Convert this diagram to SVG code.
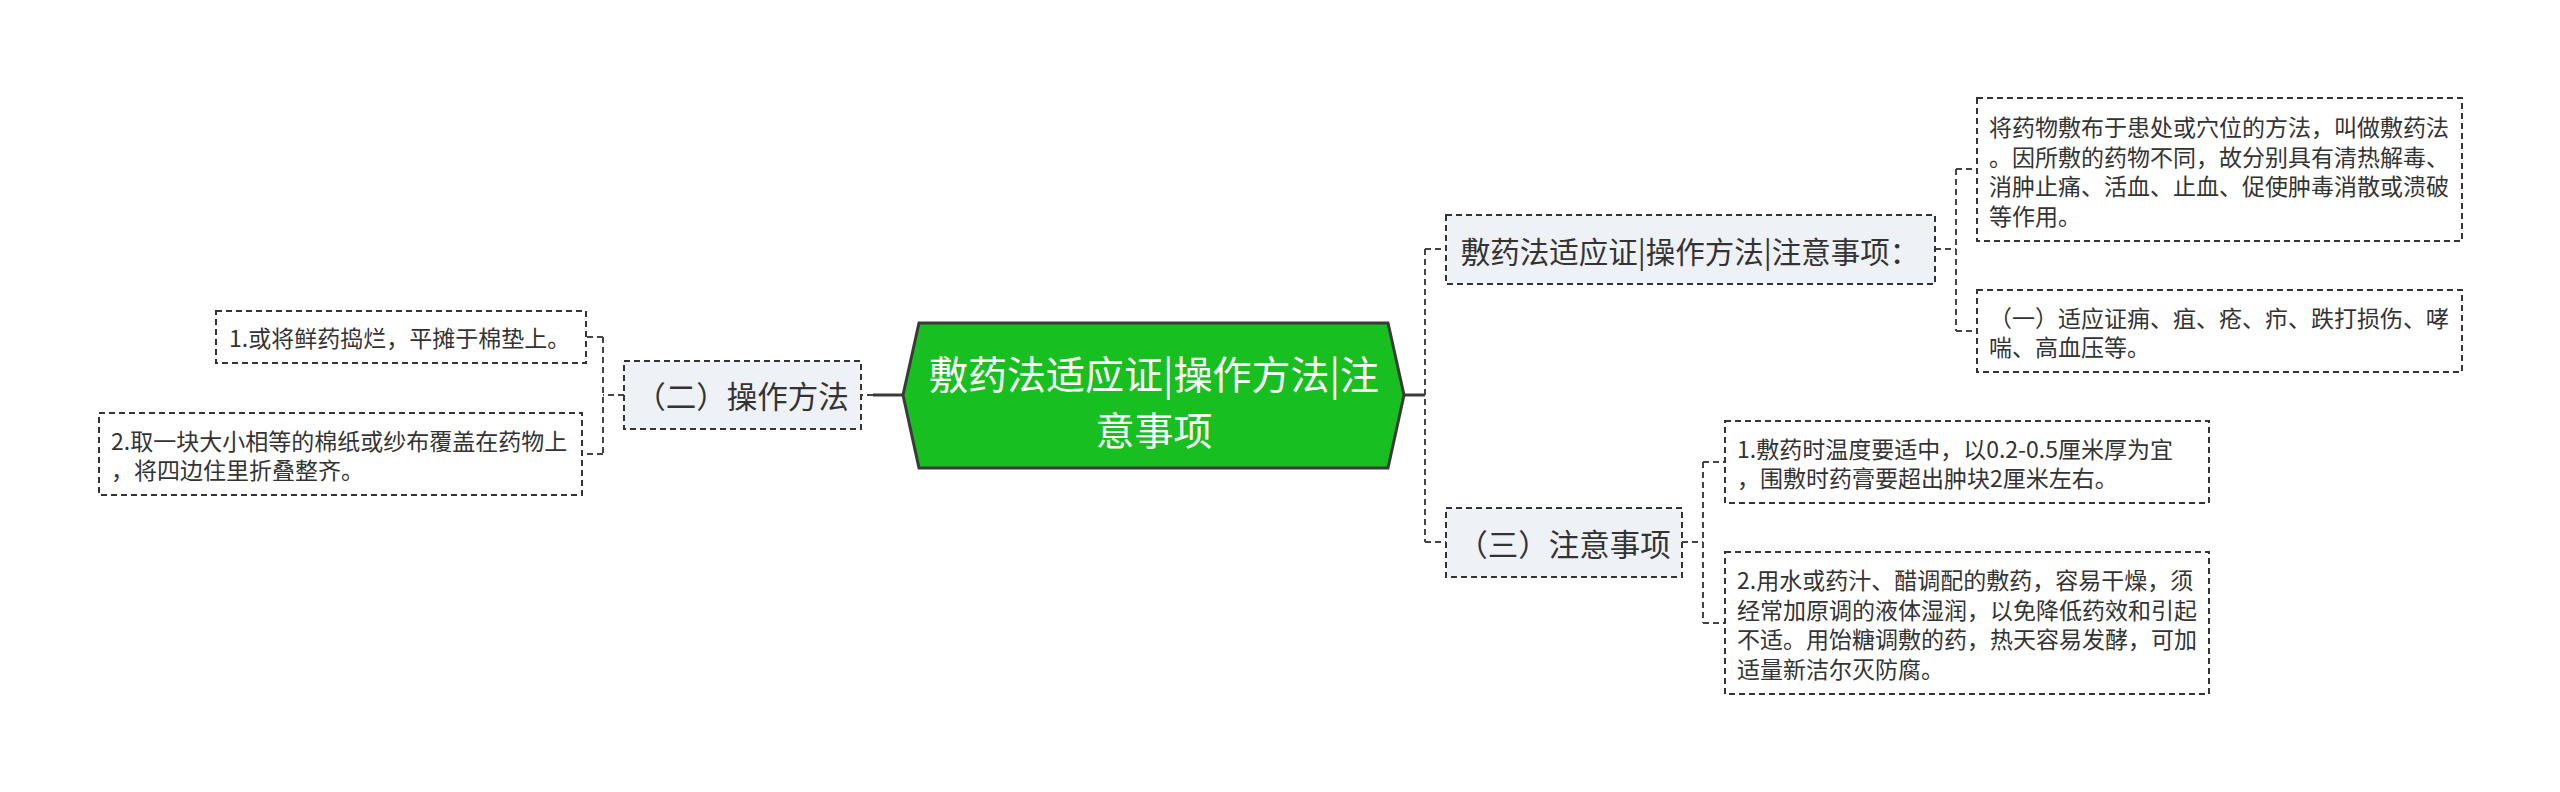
<svg xmlns="http://www.w3.org/2000/svg" width="2560" height="792" viewBox="0 0 2560 792">
<style>
text{font-family:"Microsoft YaHei","Noto Sans CJK SC","Noto Sans",sans-serif;}
.leaf rect{fill:#ffffff;stroke:#333333;stroke-width:2;stroke-dasharray:6 4;}
.sub rect{fill:#eef1f5;stroke:#333333;stroke-width:2;stroke-dasharray:6 4;}
.leaf text{font-size:23px;fill:#333333;dominant-baseline:central;}
.sub text{font-size:30.5px;fill:#333333;dominant-baseline:central;text-anchor:middle;}
.root polygon{fill:#17bf20;stroke:#3a3a3a;stroke-width:3;}
.root text{font-size:39px;fill:#ffffff;dominant-baseline:central;text-anchor:middle;}
.dash{fill:none;stroke:#444444;stroke-width:2;stroke-dasharray:6 4;}
.solid{fill:none;stroke:#3a3a3a;stroke-width:3;}
</style>
<rect width="2560" height="792" fill="#ffffff"/>
<g id="connectors">
<path class="solid" d="M903,395 H873"/>
<path class="dash" d="M873,395 H861"/>
<path class="dash" d="M624,395 H603 M603,337 V454 M603,337 H586 M603,454 H582"/>
<path class="solid" d="M1404,395 H1425"/>
<path class="dash" d="M1425,249 V542 M1425,249 H1446 M1425,542 H1446"/>
<path class="dash" d="M1935,249 H1956 M1956,169 V331 M1956,169 H1977 M1956,331 H1977"/>
<path class="dash" d="M1682,542 H1703 M1703,462 V623 M1703,462 H1725 M1703,623 H1725"/>
</g>
<g id="root" class="root">
<polygon points="903,395 919,323 1388,323 1404,395 1388,468 919,468"/>
<text x="1154" y="372">敷药法适应证|操作方法|注</text>
<text x="1154" y="428">意事项</text>
</g>
<g id="node-caozuo" class="sub">
<rect x="624" y="361" width="237" height="68"/>
<text x="742" y="395">（二）操作方法</text>
</g>
<g id="leaf-caozuo-1" class="leaf">
<rect x="216" y="311" width="370" height="52"/>
<text x="229" y="337">1.或将鲜药捣烂，平摊于棉垫上。</text>
</g>
<g id="leaf-caozuo-2" class="leaf">
<rect x="99" y="413" width="483" height="82"/>
<text x="111" y="440">2.取一块大小相等的棉纸或纱布覆盖在药物上</text>
<text x="111" y="469">，将四边住里折叠整齐。</text>
</g>
<g id="node-title" class="sub">
<rect x="1446" y="215" width="489" height="69"/>
<text x="1690" y="250" style="font-size:29.5px">敷药法适应证|操作方法|注意事项：</text>
</g>
<g id="leaf-title-1" class="leaf">
<rect x="1977" y="98" width="485" height="143"/>
<text x="1989" y="126">将药物敷布于患处或穴位的方法，叫做敷药法</text>
<text x="1989" y="155.5">。因所敷的药物不同，故分别具有清热解毒、</text>
<text x="1989" y="185">消肿止痛、活血、止血、促使肿毒消散或溃破</text>
<text x="1989" y="214.5">等作用。</text>
</g>
<g id="leaf-title-2" class="leaf">
<rect x="1977" y="290" width="485" height="82"/>
<text x="1989" y="316.5">（一）适应证痈、疽、疮、疖、跌打损伤、哮</text>
<text x="1989" y="346">喘、高血压等。</text>
</g>
<g id="node-zhuyi" class="sub">
<rect x="1446" y="508" width="236" height="69"/>
<text x="1564" y="542.5">（三）注意事项</text>
</g>
<g id="leaf-zhuyi-1" class="leaf">
<rect x="1725" y="421" width="484" height="82"/>
<text x="1737" y="447.5">1.敷药时温度要适中，以0.2-0.5厘米厚为宜</text>
<text x="1737" y="477">，围敷时药膏要超出肿块2厘米左右。</text>
</g>
<g id="leaf-zhuyi-2" class="leaf">
<rect x="1725" y="552" width="484" height="142"/>
<text x="1737" y="579">2.用水或药汁、醋调配的敷药，容易干燥，须</text>
<text x="1737" y="608.5">经常加原调的液体湿润，以免降低药效和引起</text>
<text x="1737" y="638">不适。用饴糖调敷的药，热天容易发酵，可加</text>
<text x="1737" y="667.5">适量新洁尔灭防腐。</text>
</g>
</svg>
